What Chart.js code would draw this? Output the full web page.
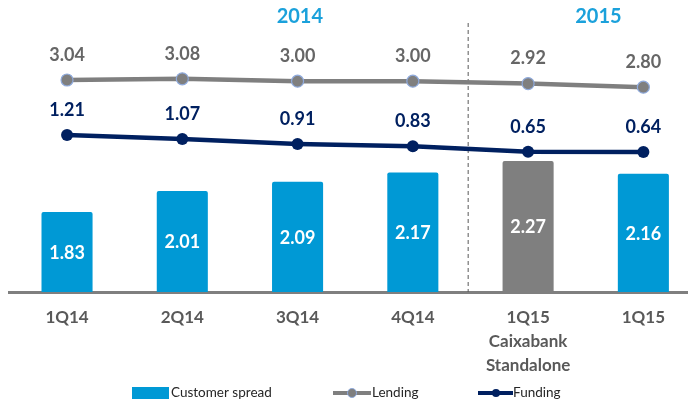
<!DOCTYPE html>
<html>
<head>
<meta charset="utf-8">
<script src="https://cdn.jsdelivr.net/npm/chart.js@4.4.1/dist/chart.umd.min.js"></script>
<style>
    html, body { margin: 0; padding: 0; background: #ffffff; }
    #wrap { width: 688px; height: 403px; overflow: hidden; }
</style>
</head>
<body>
<div id="wrap"><canvas id="spreadChart" width="701" height="403"></canvas></div>
<script>
// Dados
const categories = [['1Q14'], ['2Q14'], ['3Q14'], ['4Q14'], ['1Q15', 'Caixabank', 'Standalone'], ['1Q15']];
const customerSpread = [1.83, 2.01, 2.09, 2.17, 2.27, 2.16];
const lending = [3.04, 3.08, 3.00, 3.00, 2.92, 2.80];
const funding = [1.21, 1.07, 0.91, 0.83, 0.65, 0.64];
const years = ['2014', '2015'];
const yearAt = [2.02, 4.61];
const splitAt = 3.48;

const BLUE = '#0099d5';
const GREY = '#7f7f7f';
const NAVY = '#002060';
const FONT = 'Lato, "Open Sans", sans-serif';

// Rótulos de valores, anos, linha tracejada e legenda
const decorPlugin = {
    id: 'decor',
    beforeDatasetsDraw(chart) {
        const ctx = chart.ctx;
        const x = chart.scales.x.getPixelForValue(splitAt);
        ctx.save();
        ctx.strokeStyle = '#595959';
        ctx.lineWidth = 1;
        ctx.setLineDash([4, 3]);
        ctx.beginPath();
        ctx.moveTo(x, 23);
        ctx.lineTo(x, chart.chartArea.bottom);
        ctx.stroke();
        ctx.restore();
    },
    afterDatasetsDraw(chart) {
        const ctx = chart.ctx;
        const bottom = chart.chartArea.bottom;
        ctx.save();
        ctx.textAlign = 'center';
        ctx.textBaseline = 'middle';
        ctx.font = 'bold 18px ' + FONT;

        chart.getDatasetMeta(0).data.forEach((bar, i) => {
            ctx.fillStyle = '#ffffff';
            ctx.fillText(customerSpread[i].toFixed(2), bar.x, (bar.y + bottom) / 2 + 1);
        });
        chart.getDatasetMeta(1).data.forEach((pt, i) => {
            ctx.fillStyle = '#666666';
            ctx.fillText(lending[i].toFixed(2), pt.x, pt.y - 25);
        });
        chart.getDatasetMeta(2).data.forEach((pt, i) => {
            ctx.fillStyle = NAVY;
            ctx.fillText(funding[i].toFixed(2), pt.x, pt.y - 25);
        });

        ctx.font = 'bold 20px ' + FONT;
        ctx.fillStyle = '#1ba1db';
        years.forEach((y, i) => {
            ctx.fillText(y, chart.scales.x.getPixelForValue(yearAt[i]), 17);
        });
        ctx.restore();
    },
    afterDraw(chart) {
        const ctx = chart.ctx;
        const ly = 393;
        ctx.save();
        ctx.font = '13.5px ' + FONT;
        ctx.textBaseline = 'middle';
        ctx.textAlign = 'left';

        ctx.fillStyle = BLUE;
        ctx.fillRect(132, 387, 37, 12);
        ctx.fillStyle = '#262626';
        ctx.fillText(chart.data.datasets[0].label, 171, ly);

        ctx.strokeStyle = GREY;
        ctx.lineWidth = 4;
        ctx.beginPath(); ctx.moveTo(333, ly); ctx.lineTo(371, ly); ctx.stroke();
        ctx.beginPath(); ctx.arc(352, ly, 4.5, 0, Math.PI * 2);
        ctx.fillStyle = GREY; ctx.fill();
        ctx.lineWidth = 1; ctx.strokeStyle = '#8faadc'; ctx.stroke();
        ctx.fillStyle = '#262626';
        ctx.fillText(chart.data.datasets[1].label, 372, ly);

        ctx.strokeStyle = NAVY;
        ctx.lineWidth = 4;
        ctx.beginPath(); ctx.moveTo(478, ly); ctx.lineTo(513, ly); ctx.stroke();
        ctx.beginPath(); ctx.arc(496, ly, 4, 0, Math.PI * 2);
        ctx.fillStyle = NAVY; ctx.fill();
        ctx.fillStyle = '#262626';
        ctx.fillText(chart.data.datasets[2].label, 513, ly);
        ctx.restore();
    }
};

const ctx = document.getElementById('spreadChart').getContext('2d');
new Chart(ctx, {
    type: 'bar',
    data: {
        labels: categories,
        datasets: [{
            label: 'Customer spread',
            data: customerSpread,
            backgroundColor: customerSpread.map((v, i) => i === 4 ? GREY : BLUE),
            borderRadius: 2,
            borderSkipped: 'bottom',
            barPercentage: 0.443,
            categoryPercentage: 1,
            yAxisID: 'yBar',
            order: 3
        }, {
            type: 'line',
            label: 'Lending',
            data: lending,
            borderColor: GREY,
            borderWidth: 4.5,
            pointRadius: 6,
            pointBackgroundColor: GREY,
            pointBorderColor: '#8faadc',
            pointBorderWidth: 1.2,
            tension: 0,
            yAxisID: 'yLine',
            order: 2
        }, {
            type: 'line',
            label: 'Funding',
            data: funding,
            borderColor: NAVY,
            borderWidth: 4.5,
            pointRadius: 6,
            pointBackgroundColor: NAVY,
            pointBorderColor: NAVY,
            pointBorderWidth: 0,
            tension: 0,
            yAxisID: 'yLine',
            order: 1
        }]
    },
    options: {
        responsive: false,
        animation: false,
        layout: { autoPadding: false, padding: { left: 9.4, right: 0, top: 20, bottom: 0 } },
        plugins: {
            legend: { display: false },
            tooltip: { enabled: false }
        },
        scales: {
            x: {
                grid: { display: false, drawTicks: false },
                border: { display: true, color: GREY, width: 3 },
                ticks: {
                    color: '#595959',
                    font: { family: FONT, size: 17, weight: 'bold', lineHeight: 1.42 },
                    padding: 13,
                    maxRotation: 0,
                    autoSkip: false
                },
                afterFit: s => { s.height = 111; }
            },
            yBar: {
                display: false,
                min: 1.14,
                max: 1.14 + 272 / 116
            },
            yLine: {
                display: false,
                min: -(292 - 171.2) / 30,
                max: (171.2 - 20) / 30
            }
        }
    },
    plugins: [decorPlugin]
});
</script>
</body>
</html>
